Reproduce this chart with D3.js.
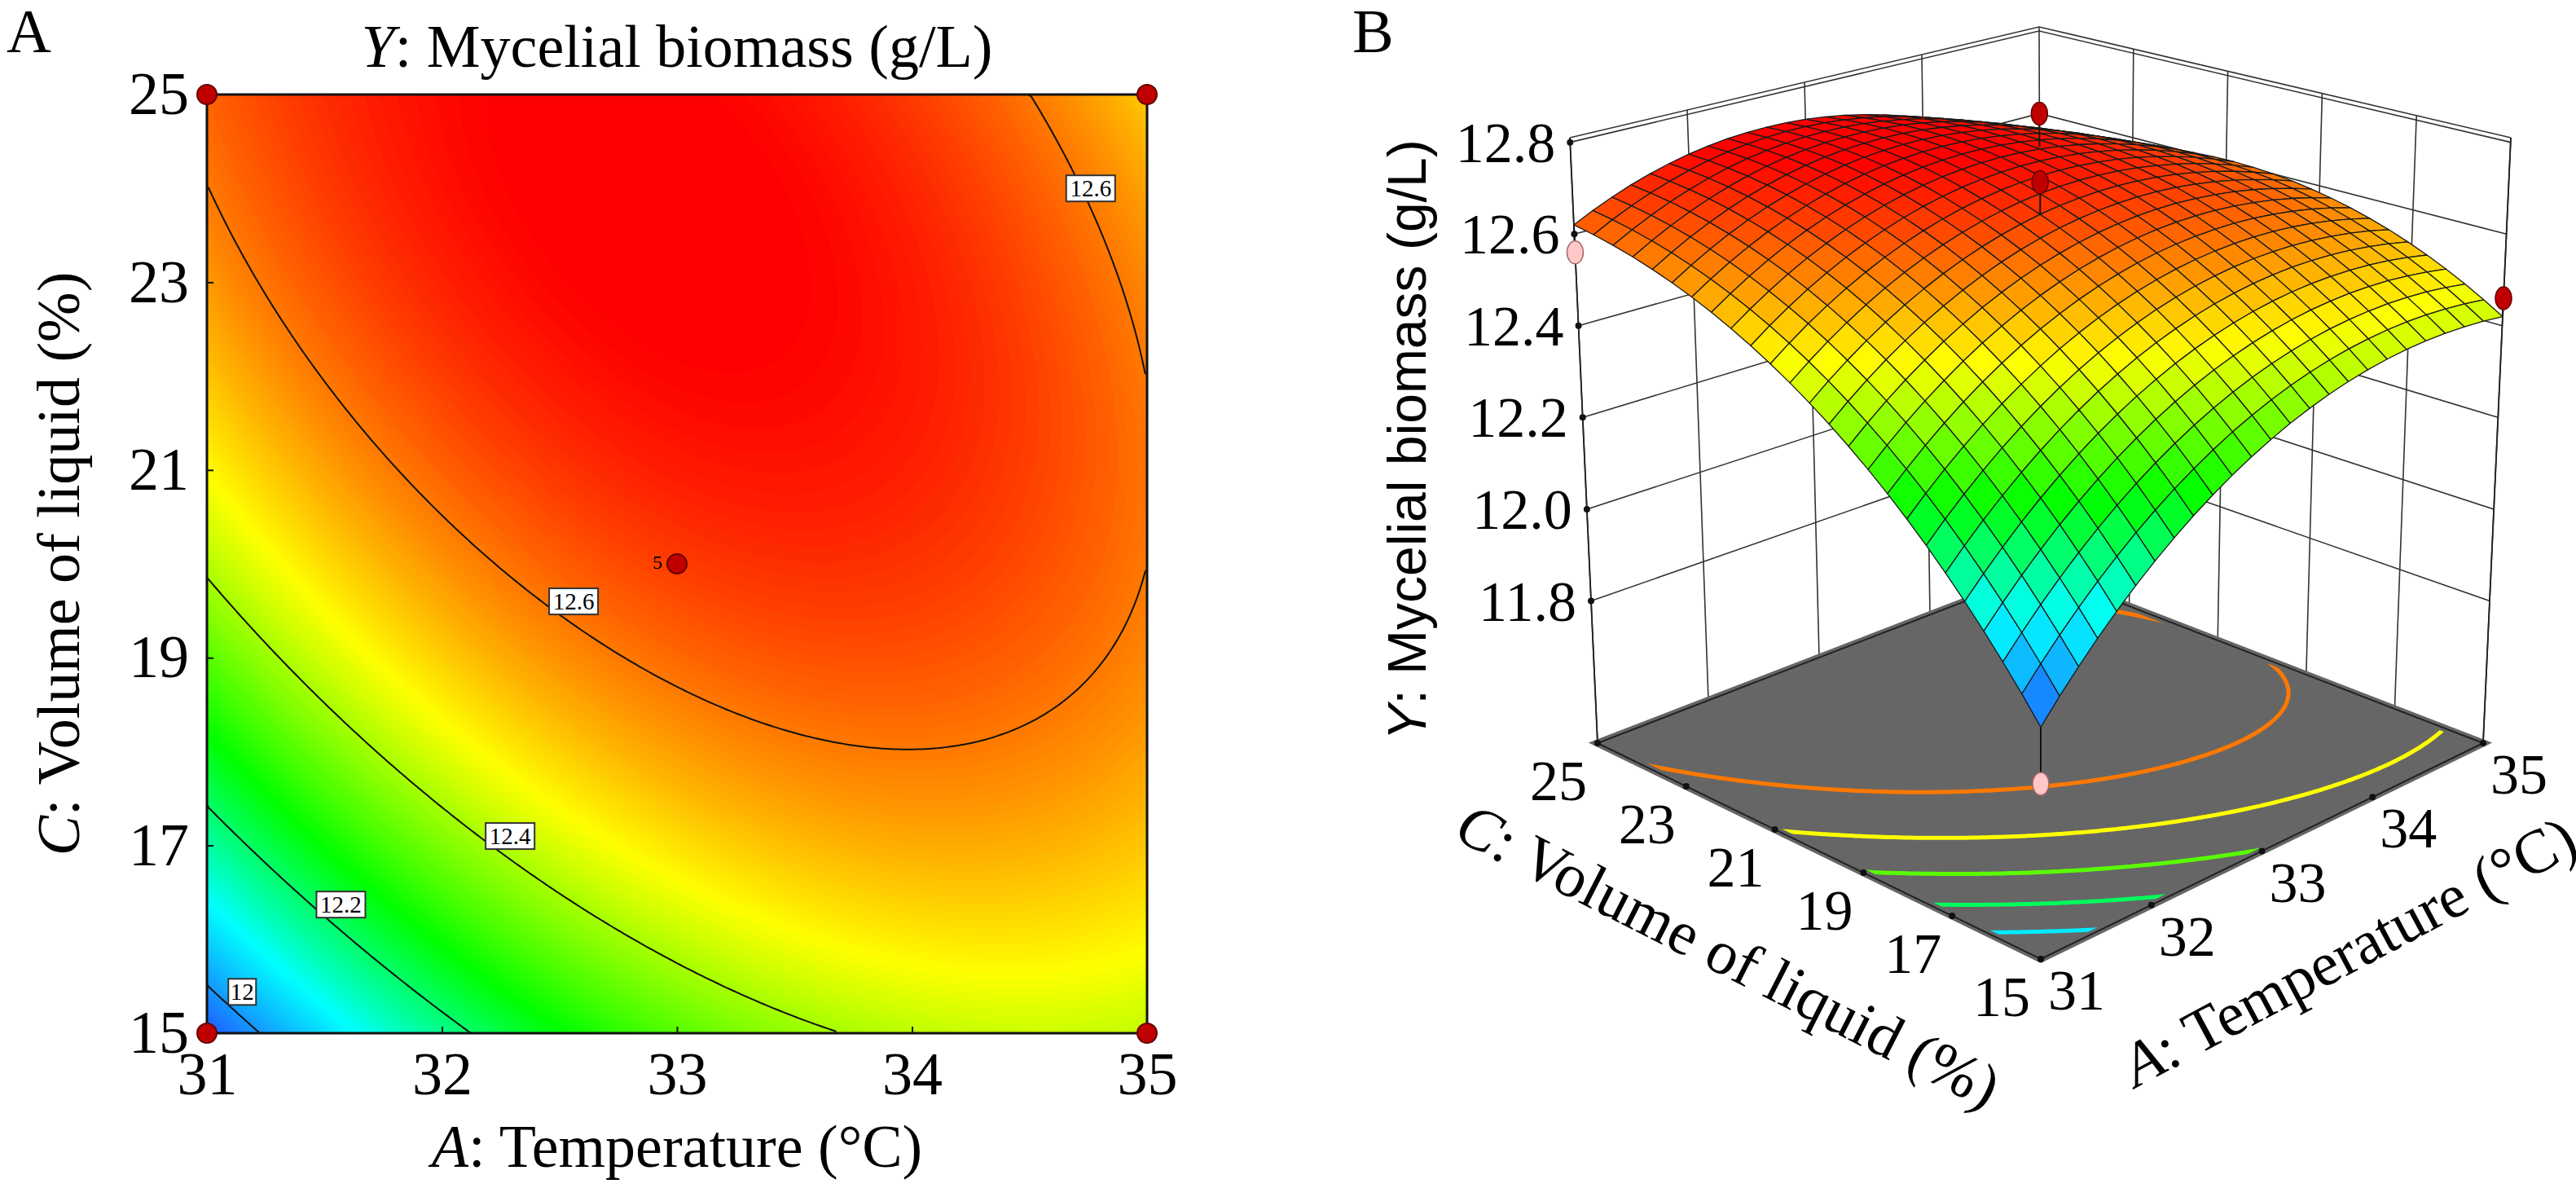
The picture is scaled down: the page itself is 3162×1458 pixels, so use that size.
<!DOCTYPE html>
<html><head><meta charset="utf-8">
<script src="https://cdn.jsdelivr.net/npm/d3@7"></script>
<style>body{margin:0;background:#fff}svg{display:block}
.sf{font-family:"Liberation Serif","Times New Roman",Times,serif}
.ss{font-family:"Liberation Sans",Arial,sans-serif}</style>
</head><body>
<svg id="c" width="3162" height="1458"></svg>
<script>
// ---------- data ----------
// fitted quadratic model in coded units a=(A-33)/2, c=(C-20)/5 : [b0, bA, bC, bAA, bCC, bAC]
const modelTerms = ["b0","bA","bC","bAA","bCC","bAC"];
const modelCoef = [12.66, 0.095, 0.195, -0.155, -0.13, -0.145];
const aTicks = [31,32,33,34,35];
const cTicks2D = [15,17,19,21,23,25];
const cTicks3D = [15,17,19,21,23,25];
const zTicks = [11.8,12.0,12.2,12.4,12.6,12.8];
const contourLevels = [12.0,12.2,12.4,12.6];
const floorLevels = [12.08,12.21,12.34,12.47,12.60];
const labelA = [32.56,34.76,32.29,31.57,31.15];
const labelC = [19.6,24.0,17.1,16.37,15.44];
const labelText = ["12.6","12.6","12.4","12.2","12"];
const ptA = [31,31,35,35,33];
const ptC = [15,25,15,25,20];
const ptY = [11.83,12.56,12.46,12.60,12.73];

const Y = (A,C)=>{const a=(A-33)/2,c=(C-20)/5,b=modelCoef;
  return b[0]+b[1]*a+b[2]*c+b[3]*a*a+b[4]*c*c+b[5]*a*c;};
const color = d3.scaleLinear().domain([11.94,12.1,12.27,12.47,12.58,12.72])
  .range(["#2058ff","#00ffff","#00ff00","#ffff00","#ff8c00","#ff0000"]).clamp(true);

const svg = d3.select("#c");
const serif = "Liberation Serif";

// ---------- panel A ----------
const x = d3.scaleLinear().domain([31,35]).range([254,1408]);
const y = d3.scaleLinear().domain([15,25]).range([1268,116]);
const n = 240;
const vals = new Array(n*n);
for(let j=0;j<n;j++)for(let i=0;i<n;i++){
  const A=31+4*(i+0.5)/n, C=25-10*(j+0.5)/n; vals[i+j*n]=Y(A,C);}
const gx = d3.scaleLinear().domain([0,n]).range([254,1408]);
const gy = d3.scaleLinear().domain([0,n]).range([116,1268]);
const path = d3.geoPath(d3.geoTransform({point(px,py){this.stream.point(gx(px),gy(py));}}));
const pA = svg.append("g");
pA.append("defs").append("clipPath").attr("id","clipA").append("rect")
  .attr("x",254).attr("y",116).attr("width",1154).attr("height",1152);
const fillTh = d3.range(11.90,12.80,0.005);
pA.append("g").attr("clip-path","url(#clipA)").selectAll("path")
  .data(d3.contours().size([n,n]).thresholds(fillTh)(vals))
  .join("path").attr("d",path).attr("fill",d=>color(d.value+0.0025))
  .attr("stroke",d=>color(d.value+0.0025)).attr("stroke-width",1);
pA.append("g").attr("clip-path","url(#clipA)").selectAll("path")
  .data(d3.contours().size([n,n]).thresholds(contourLevels)(vals))
  .join("path").attr("d",path).attr("fill","none").attr("stroke","#111").attr("stroke-width",2);
pA.append("rect").attr("x",254).attr("y",116).attr("width",1154).attr("height",1152)
  .attr("fill","none").attr("stroke","#111").attr("stroke-width",3);
const styleAx = g=>{g.select(".domain").remove();g.attr("font-family",null).attr("font-size",null);
  g.selectAll("text").attr("class","sf").style("font-size","74px").attr("fill","#000");
  g.selectAll("line").attr("stroke","#111").attr("stroke-width",2);};
pA.append("g").attr("transform","translate(0,1268)")
  .call(d3.axisBottom(x).tickValues(aTicks).tickSize(-8).tickPadding(22).tickFormat(d3.format("d"))).call(styleAx);
pA.append("g").attr("transform","translate(254,0)")
  .call(d3.axisLeft(y).tickValues(cTicks2D).tickSize(-8).tickPadding(22).tickFormat(d3.format("d"))).call(styleAx);
// contour labels
labelText.forEach((t,i)=>{
  const cx=x(labelA[i]), cy=y(labelC[i]);
  const w = t.length*13+8;
  pA.append("rect").attr("x",cx-w/2).attr("y",cy-16).attr("width",w).attr("height",32)
    .attr("fill","#fff").attr("stroke","#333").attr("stroke-width",2);
  pA.append("text").attr("x",cx).attr("y",cy+10).attr("text-anchor","middle")
    .attr("class","sf").style("font-size","29px").text(t);
});
pA.selectAll("circle").data(ptA.map((a,i)=>[a,ptC[i]])).join("circle")
  .attr("cx",d=>x(d[0])).attr("cy",d=>y(d[1])).attr("r",12)
  .attr("fill","#c00000").attr("stroke","#600").attr("stroke-width",2);
pA.append("text").attr("x",x(33)-18).attr("y",y(20)+6).attr("text-anchor","end")
  .attr("class","sf").style("font-size","24px").text("5");
pA.append("text").attr("x",8).attr("y",64).attr("class","sf").style("font-size","76px").text("A");
const t1 = pA.append("text").attr("x",831).attr("y",82).attr("text-anchor","middle").attr("class","sf").style("font-size","74px");
t1.append("tspan").attr("font-style","italic").text("Y");t1.append("tspan").text(": Mycelial biomass (g/L)");
const t2 = pA.append("text").attr("x",831).attr("y",1432).attr("text-anchor","middle").attr("class","sf").style("font-size","74px");
t2.append("tspan").attr("font-style","italic").text("A");t2.append("tspan").text(": Temperature (°C)");
const t3 = pA.append("text").attr("transform","translate(97,692) rotate(-90)").attr("text-anchor","middle").attr("class","sf").style("font-size","74px");
t3.append("tspan").attr("font-style","italic").text("C");t3.append("tspan").text(": Volume of liquid (%)");

// ---------- panel B ----------
const zMin=11.49, zMax=12.81;
const F={f:[2505,1177],r:[3048,912],l:[1961,912],b:[2505,702]};
const T={f:[2505,342],r:[3082,169],l:[1927,169],b:[2503,33]};
const bil=(Q,u,v)=>[0,1].map(k=>Q.f[k]*(1-u)*(1-v)+Q.r[k]*u*(1-v)+Q.l[k]*(1-u)*v+Q.b[k]*u*v);
const P=(A,C,Z)=>{const u=(A-31)/4,v=(C-15)/10,w=(Z-zMin)/(zMax-zMin);
  const p=bil(F,u,v),q=bil(T,u,v);return [p[0]*(1-w)+q[0]*w,p[1]*(1-w)+q[1]*w];};
const pB = svg.append("g");
const line = d3.line();
const wall = pB.append("g").attr("stroke","#333").attr("stroke-width",1.6).attr("fill","none");
[31,32,33,34,35].forEach(a=>wall.append("path").attr("d",line([P(a,25,zMin),P(a,25,zMax)])));
[23,21,19,17,15].forEach(c=>wall.append("path").attr("d",line([P(35,c,zMin),P(35,c,zMax)])));
zTicks.concat([zMax]).forEach(z=>wall.append("path").attr("d",line([P(31,25,z),P(35,25,z),P(35,15,z)])));
const floorD = line([P(31,15,zMin),P(35,15,zMin),P(35,25,zMin),P(31,25,zMin)])+"Z";
pB.append("path").attr("d",floorD).attr("fill","#666").attr("stroke","#222").attr("stroke-width",2);
const nf=160, fv=new Array(nf*nf);
for(let j=0;j<nf;j++)for(let i=0;i<nf;i++){fv[i+j*nf]=Y(31+4*(i+0.5)/nf,15+10*(j+0.5)/nf);}
const fpath=d3.geoPath(d3.geoTransform({point(px,py){
  const A=31+4*Math.min(Math.max(px,0.5),nf-0.5)/nf, C=15+10*Math.min(Math.max(py,0.5),nf-0.5)/nf;
  const p=P(A,C,zMin);this.stream.point(p[0],p[1]);}}));
pB.append("g").selectAll("path").data(d3.contours().size([nf,nf]).thresholds(floorLevels)(fv))
  .join("path").attr("d",fpath).attr("fill","none")
  .attr("stroke",d=>color(d.value)).attr("stroke-width",5);
pB.append("path").attr("d",floorD).attr("fill","none").attr("stroke","#666").attr("stroke-width",9);
pB.append("path").attr("d",floorD).attr("fill","none").attr("stroke","#222").attr("stroke-width",2);
[[31,25],[35,15]].forEach(d=>pB.append("path").attr("d",line([P(d[0],d[1],zMin),P(d[0],d[1],zMax)]))
  .attr("stroke","#222").attr("stroke-width",1.8));
const pts = ptA.map((a,i)=>({A:a,C:ptC[i],Z:ptY[i],s:Y(a,ptC[i])}));
pts.filter(p=>p.Z<p.s).forEach(p=>pB.append("path").attr("d",line([P(p.A,p.C,p.Z),P(p.A,p.C,p.s)])).attr("stroke","#111").attr("stroke-width",2));
const N=24, cells=[];
for(let i=0;i<N;i++)for(let j=0;j<N;j++){
  const a0=31+4*i/N,a1=31+4*(i+1)/N,c0=15+10*j/N,c1=15+10*(j+1)/N;
  cells.push({pts:[[a0,c0],[a1,c0],[a1,c1],[a0,c1]],v:Y((a0+a1)/2,(c0+c1)/2),d:(i+j)});
}
cells.sort((p,q)=>q.d-p.d);
pB.append("g").selectAll("path").data(cells).join("path")
  .attr("d",d=>line(d.pts.map(p=>P(p[0],p[1],Y(p[0],p[1]))))+"Z")
  .attr("fill",d=>color(d.v)).attr("stroke","#1a1a1a").attr("stroke-width",1.3).attr("stroke-linejoin","round");
pts.filter(p=>p.Z>=p.s).forEach(p=>pB.append("path").attr("d",line([P(p.A,p.C,p.Z),P(p.A,p.C,p.s)])).attr("stroke","#111").attr("stroke-width",2));
pts.forEach(p=>{const q=P(p.A,p.C,p.Z);
  pB.append("ellipse").attr("cx",q[0]).attr("cy",q[1]).attr("rx",10).attr("ry",14)
   .attr("fill",p.Z>=p.s?"#c00000":"#ffc8c8").attr("stroke",p.Z>=p.s?"#600":"#a66").attr("stroke-width",1.5);});
zTicks.forEach(z=>{const q=P(31,25,z);
  pB.append("circle").attr("cx",q[0]).attr("cy",q[1]).attr("r",4).attr("fill","#111");
  pB.append("text").attr("x",q[0]-18).attr("y",q[1]+24).attr("text-anchor","end")
    .attr("class","sf").style("font-size","70px").text(z.toFixed(1));});
cTicks3D.forEach(c=>{const q=P(31,c,zMin);
  pB.append("circle").attr("cx",q[0]).attr("cy",q[1]).attr("r",4).attr("fill","#111");
  pB.append("text").attr("x",q[0]-48).attr("y",q[1]+70).attr("text-anchor","middle")
    .attr("class","sf").style("font-size","70px").text(c);});
aTicks.forEach(a=>{const q=P(a,15,zMin);
  pB.append("circle").attr("cx",q[0]).attr("cy",q[1]).attr("r",4).attr("fill","#111");
  pB.append("text").attr("x",q[0]+44).attr("y",q[1]+62).attr("text-anchor","middle")
    .attr("class","sf").style("font-size","70px").text(a);});
pB.append("text").attr("x",1660).attr("y",64).attr("class","sf").style("font-size","76px").text("B");
const t4=pB.append("text").attr("transform","translate(1750,540) rotate(-90)").attr("text-anchor","middle")
  .attr("class","ss").style("font-size","66px");
t4.append("tspan").attr("font-style","italic").text("Y");t4.append("tspan").text(": Mycelial biomass (g/L)");
const t5=pB.append("text").attr("transform","translate(2110,1195) rotate(27)").attr("text-anchor","middle")
  .attr("class","sf").style("font-size","76px");
t5.append("tspan").attr("font-style","italic").text("C");t5.append("tspan").text(": Volume of liquid (%)");
const t6=pB.append("text").attr("transform","translate(2895,1190) rotate(-28)").attr("text-anchor","middle")
  .attr("class","sf").style("font-size","76px");
t6.append("tspan").attr("font-style","italic").text("A");t6.append("tspan").text(": Temperature (°C)");
</script></body></html>
